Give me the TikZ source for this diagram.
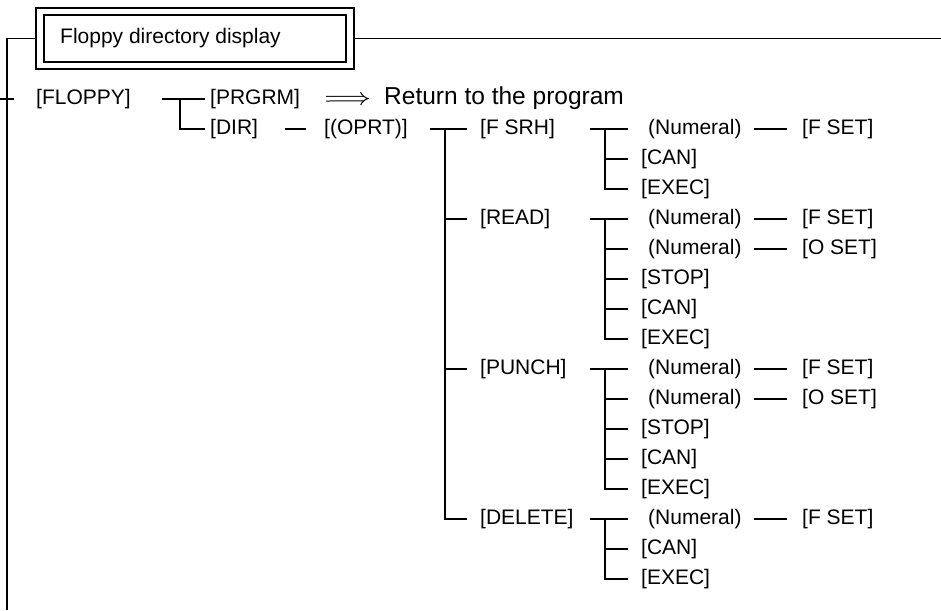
\documentclass[tikz,border=0pt]{standalone}
\usepackage{fontspec}
\setmainfont{Liberation Sans}
\usetikzlibrary{
  arrows.meta,
  positioning
}
\tikzset{
  keylbl/.style={
    anchor=west,
    inner sep=0pt,
    font=\fontsize{21}{24}\selectfont,
  },
  notelbl/.style={
    anchor=west,
    inner sep=0pt,
    font=\fontsize{24.5}{28}\selectfont,
  },
  branch/.style={
    line width=1.5pt,
    draw=black,
  },
  tokey/.style={shorten >=13pt},
  tonum/.style={shorten >=20pt},
  implies/.style={
    double,
    double distance=3.6pt,
    line width=1pt,
    -{Implies[length=8pt]},
  },
}

\begin{document}
\begin{tikzpicture}[x=1pt, y=-1pt]
  \useasboundingbox (0,0) rectangle (941,610);

  % Title frame and outer rail
  \node[draw, line width=2pt, minimum width=318pt, minimum height=61pt, inner sep=0pt] (title) at (195,38.5) {};
  \node[draw, line width=1.3pt, minimum width=302pt, minimum height=47pt, inner sep=0pt] (titlein) at (195,38.5) {};
  \node[keylbl] (titletext) at (60,38.5) {Floppy directory display};

  \coordinate (railtop) at (7,38.5);
  \coordinate (railbot) at (7,610);
  \coordinate (railend) at (941,38.5);
  \coordinate (tickL) at (0,99);
  \coordinate (tickR) at (14,99);

  \draw[branch] (title.west) -- (railtop) -- (railbot);
  \draw[branch] (title.east) -- (railend);
  \draw[branch] (tickL) -- (tickR);

  % Row 1 - floppy soft key
  \node[keylbl] (floppy) at (36,99) {[FLOPPY]};
  \node[keylbl] (prgrm) at (210,99) {[PRGRM]};
  \node[notelbl] (ret) at (384,98) {Return to the program};
  \node[keylbl] (dir) at (210,129) {[DIR]};
  \node[keylbl] (oprt) at (324,129) {[(OPRT)]};

  \coordinate (floppybar) at (180,99);
  \draw[branch, shorten <=31pt, shorten >=5pt] (floppy) -- (prgrm);
  \draw[branch, shorten >=5pt] (floppybar) |- (dir);
  \draw[implies, shorten <=26pt, shorten >=15pt] (prgrm) -- (ret);
  \draw[branch, shorten <=27pt, shorten >=18pt] (dir) -- (oprt);

  % Operation keys
  \node[keylbl] (fsrh) at (480,129) {[F SRH]};
  \node[keylbl] (read) at (480,219) {[READ]};
  \node[keylbl] (punch) at (480,369) {[PUNCH]};
  \node[keylbl] (delete) at (480,519) {[DELETE]};

  \coordinate (oprtbar) at (445,129);
  \draw[branch, shorten <=22pt, tokey] (oprt) -- (fsrh);
  \draw[branch, tokey] (oprtbar |- read) -- (read);
  \draw[branch, tokey] (oprtbar |- punch) -- (punch);
  \draw[branch, tokey] (oprtbar) |- (delete);

  % F SRH
  \node[keylbl] (fsrh-num) at (648,129) {(Numeral)};
  \node[keylbl] (fsrh-fset) at (802,129) {[F SET]};
  \node[keylbl] (fsrh-can) at (641,159) {[CAN]};
  \node[keylbl] (fsrh-exec) at (641,189) {[EXEC]};

  \coordinate (fsrh-in) at (590,129);
  \coordinate (fsrh-bar) at (605,129);
  \draw[branch, tonum] (fsrh-in) -- (fsrh-num);
  \draw[branch, shorten <=12pt, shorten >=15pt] (fsrh-num) -- (fsrh-fset);
  \draw[branch, tokey] (fsrh-bar |- fsrh-can) -- (fsrh-can);
  \draw[branch, tokey] (fsrh-bar) |- (fsrh-exec);

  % READ
  \node[keylbl] (read-num1) at (648,219) {(Numeral)};
  \node[keylbl] (read-fset) at (802,219) {[F SET]};
  \node[keylbl] (read-num2) at (648,249) {(Numeral)};
  \node[keylbl] (read-oset) at (802,249) {[O SET]};
  \node[keylbl] (read-stop) at (641,279) {[STOP]};
  \node[keylbl] (read-can) at (641,309) {[CAN]};
  \node[keylbl] (read-exec) at (641,339) {[EXEC]};

  \coordinate (read-in) at (590,219);
  \coordinate (read-bar) at (605,219);
  \draw[branch, tonum] (read-in) -- (read-num1);
  \draw[branch, shorten <=12pt, shorten >=15pt] (read-num1) -- (read-fset);
  \draw[branch, tonum] (read-bar |- read-num2) -- (read-num2);
  \draw[branch, shorten <=12pt, shorten >=15pt] (read-num2) -- (read-oset);
  \draw[branch, tokey] (read-bar |- read-stop) -- (read-stop);
  \draw[branch, tokey] (read-bar |- read-can) -- (read-can);
  \draw[branch, tokey] (read-bar) |- (read-exec);

  % PUNCH
  \node[keylbl] (punch-num1) at (648,369) {(Numeral)};
  \node[keylbl] (punch-fset) at (802,369) {[F SET]};
  \node[keylbl] (punch-num2) at (648,399) {(Numeral)};
  \node[keylbl] (punch-oset) at (802,399) {[O SET]};
  \node[keylbl] (punch-stop) at (641,429) {[STOP]};
  \node[keylbl] (punch-can) at (641,459) {[CAN]};
  \node[keylbl] (punch-exec) at (641,489) {[EXEC]};

  \coordinate (punch-in) at (590,369);
  \coordinate (punch-bar) at (605,369);
  \draw[branch, tonum] (punch-in) -- (punch-num1);
  \draw[branch, shorten <=12pt, shorten >=15pt] (punch-num1) -- (punch-fset);
  \draw[branch, tonum] (punch-bar |- punch-num2) -- (punch-num2);
  \draw[branch, shorten <=12pt, shorten >=15pt] (punch-num2) -- (punch-oset);
  \draw[branch, tokey] (punch-bar |- punch-stop) -- (punch-stop);
  \draw[branch, tokey] (punch-bar |- punch-can) -- (punch-can);
  \draw[branch, tokey] (punch-bar) |- (punch-exec);

  % DELETE
  \node[keylbl] (del-num) at (648,519) {(Numeral)};
  \node[keylbl] (del-fset) at (802,519) {[F SET]};
  \node[keylbl] (del-can) at (641,549) {[CAN]};
  \node[keylbl] (del-exec) at (641,579) {[EXEC]};

  \coordinate (del-in) at (590,519);
  \coordinate (del-bar) at (605,519);
  \draw[branch, tonum] (del-in) -- (del-num);
  \draw[branch, shorten <=12pt, shorten >=15pt] (del-num) -- (del-fset);
  \draw[branch, tokey] (del-bar |- del-can) -- (del-can);
  \draw[branch, tokey] (del-bar) |- (del-exec);
\end{tikzpicture}
\end{document}
